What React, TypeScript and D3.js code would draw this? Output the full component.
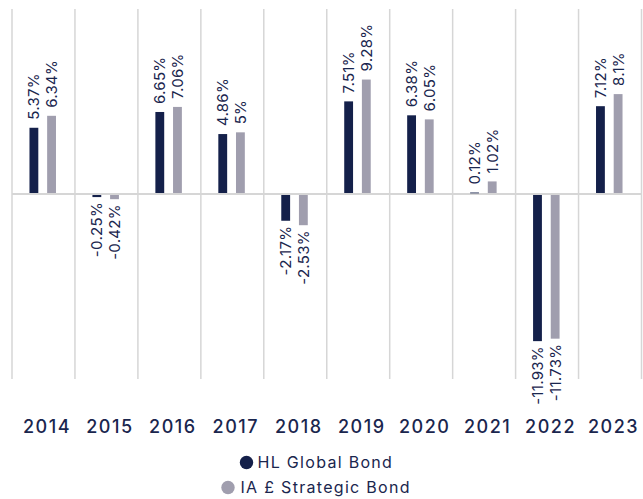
import React from "react";
import * as d3 from "d3";

const years = ["2014", "2015", "2016", "2017", "2018", "2019", "2020", "2021", "2022", "2023"];
const seriesNames = ["HL Global Bond", "IA £ Strategic Bond"];
const hlValues = [5.37, -0.25, 6.65, 4.86, -2.17, 7.51, 6.38, 0.12, -11.93, 7.12];
const iaValues = [6.34, -0.42, 7.06, 5, -2.53, 9.28, 6.05, 1.02, -11.73, 8.1];
const hlLabels = ["5.37%", "-0.25%", "6.65%", "4.86%", "-2.17%", "7.51%", "6.38%", "0.12%", "-11.93%", "7.12%"];
const iaLabels = ["6.34%", "-0.42%", "7.06%", "5%", "-2.53%", "9.28%", "6.05%", "1.02%", "-11.73%", "8.1%"];
const colors = ["#14204a", "#a09eae"];

const W = 643;
const H = 499;
const FONT = "Inter, 'Noto Sans', sans-serif";
const TEXT = "#1a264e";
const GRID = "#d6d6d6";

export default function App() {
  const x0 = d3.scaleBand<string>().domain(years).range([12, 641.5]).padding(0);
  const bw = x0.bandwidth();
  const x1 = d3
    .scaleBand<string>()
    .domain(seriesNames)
    .range([bw / 2 - 14, bw / 2 + 12.5])
    .paddingInner(0.5)
    .paddingOuter(0);
  const y = d3.scaleLinear().domain([-15, 15]).range([379, 9]);
  const seriesVals = [hlValues, iaValues];
  const seriesLabels = [hlLabels, iaLabels];

  const gridXs = years.map((yr) => x0(yr) as number).concat([x0.range()[1]]);

  return (
    <svg
      width={W}
      height={H}
      style={{ position: "absolute", left: 0, top: 0, display: "block" }}
      fontFamily={FONT}
    >
      <rect x={0} y={0} width={W} height={H} fill="#ffffff" />
      {gridXs.map((gx, i) => (
        <line key={"g" + i} x1={gx} x2={gx} y1={y(15)} y2={y(-15)} stroke={GRID} strokeWidth={1.5} />
      ))}
      <line x1={x0.range()[0]} x2={x0.range()[1]} y1={y(0)} y2={y(0)} stroke={GRID} strokeWidth={2} />
      {years.map((yr, i) => (
        <g key={yr} transform={`translate(${x0(yr)},0)`}>
          {seriesNames.map((s, si) => {
            const v = seriesVals[si][i];
            const bx = x1(s) as number;
            const h = Math.abs(y(v) - y(0));
            const cx = bx + x1.bandwidth() / 2;
            const ly = v >= 0 ? y(v) - 8 : y(v) + 5;
            return (
              <g key={s}>
                <rect
                  x={bx}
                  y={v >= 0 ? y(v) : y(0) + 1}
                  width={x1.bandwidth()}
                  height={Math.max(h - 1, 0.8)}
                  fill={colors[si]}
                />
                <text
                  transform={`translate(${cx},${ly}) rotate(-90)`}
                  textAnchor={v >= 0 ? "start" : "end"}
                  dy="0.36em"
                  fontSize={15}
                  letterSpacing={0.3}
                  fill={TEXT}
                >
                  {seriesLabels[si][i]}
                </text>
              </g>
            );
          })}
          <text
            x={bw / 2 + 3.5}
            y={433}
            textAnchor="middle"
            fontSize={18}
            fontWeight={500}
            letterSpacing={1.5}
            fill={TEXT}
          >
            {yr}
          </text>
        </g>
      ))}
      <g>
        <circle cx={246.5} cy={462.5} r={6.7} fill={colors[0]} />
        <text x={257.5} y={468.3} fontSize={16} letterSpacing={1.3} fill={TEXT}>
          {seriesNames[0]}
        </text>
        <circle cx={228} cy={487.5} r={6.7} fill={colors[1]} />
        <text x={240.5} y={493.3} fontSize={16} letterSpacing={1.3} fill={TEXT}>
          {seriesNames[1]}
        </text>
      </g>
    </svg>
  );
}
